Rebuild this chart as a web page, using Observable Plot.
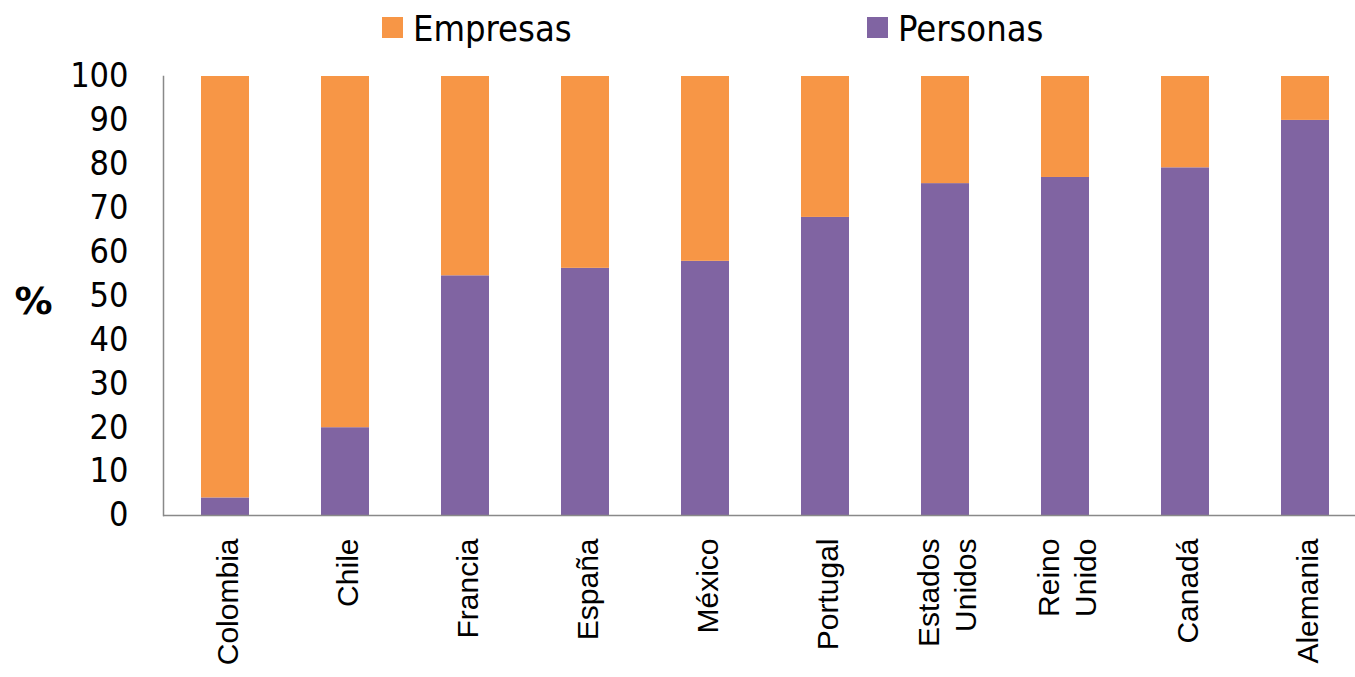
<!DOCTYPE html>
<html>
<head>
<meta charset="utf-8">
<script src="https://cdn.jsdelivr.net/npm/d3@7"></script>
<script src="https://cdn.jsdelivr.net/npm/@observablehq/plot@0.6"></script>
<style>
  html, body { margin: 0; padding: 0; background: #fff; overflow: hidden; }
  #wrap { width: 1355px; height: 677px; position: relative; }
  #legend { position: relative; width: 1355px; height: 60px; font-family: "DejaVu Sans Condensed", "DejaVu Sans", sans-serif; font-size: 36px; color: #000; }
  .sw { position: absolute; top: 17px; width: 21px; height: 21px; }
  .lab { position: absolute; top: 8px; line-height: 42px; }
</style>
</head>
<body>
<div id="wrap">
  <div id="legend"></div>
  <div id="chart"></div>
</div>
<script>
const countries = ["Colombia", "Chile", "Francia", "España", "México", "Portugal", "Estados Unidos", "Reino Unido", "Canadá", "Alemania"];
const personas = [4.0, 20.0, 54.6, 56.3, 57.9, 67.9, 75.6, 77.0, 79.2, 90.0];
const empresas = [96.0, 80.0, 45.4, 43.7, 42.1, 32.1, 24.4, 23.0, 20.8, 10.0];
const seriesNames = ["Empresas", "Personas"];
const seriesColors = ["#F79646", "#8064A2"];
const yTicks = [0, 10, 20, 30, 40, 50, 60, 70, 80, 90, 100];

// long table
const table = [];
countries.forEach((c, i) => {
  table.push({country: c, serie: "Personas", value: personas[i]});
  table.push({country: c, serie: "Empresas", value: empresas[i]});
});

// legend
const legend = document.getElementById("legend");
const legendPos = [{sw: 382, tx: 413}, {sw: 867, tx: 898}];
seriesNames.forEach((s, i) => {
  const sw = document.createElement("div");
  sw.className = "sw";
  sw.style.left = legendPos[i].sw + "px";
  sw.style.background = seriesColors[i];
  legend.appendChild(sw);
  const t = document.createElement("div");
  t.className = "lab";
  t.style.left = legendPos[i].tx + "px";
  t.textContent = s;
  legend.appendChild(t);
});

const axisColor = "#898989";

const chart = Plot.plot({
  width: 1355,
  height: 617,
  marginTop: 16,
  marginBottom: 162,
  marginLeft: 163,
  marginRight: 0,
  style: {background: "#fff", color: "#000", overflow: "visible"},
  x: {type: "band", domain: countries, paddingInner: 0.6, paddingOuter: 0.25, align: 0.6, label: null},
  y: {domain: [0, 100], label: null},
  color: {domain: seriesNames, range: seriesColors},
  marks: [
    Plot.barY(table, Plot.stackY({
      x: "country",
      y: "value",
      fill: "serie",
      order: ["Personas", "Empresas"]
    })),
    Plot.frame({anchor: "left", stroke: axisColor, strokeWidth: 1.5}),
    Plot.ruleY([0], {stroke: axisColor, strokeWidth: 1.5}),
    Plot.axisY(yTicks, {
      tickSize: 0,
      tickPadding: 35,
      fontSize: 34,
      fontFamily: "DejaVu Sans Condensed",
      label: null
    }),
    Plot.axisX({
      tickSize: 0,
      tickPadding: 23,
      tickRotate: -90,
      textAnchor: "end",
      lineAnchor: "middle",
      lineHeight: 1.25,
      fontSize: 30,
      fontFamily: "Liberation Sans",
      tickFormat: d => d.replace(" ", "\n"),
      label: null
    }),
    Plot.text(["%"], {
      frameAnchor: "left",
      dx: -130,
      dy: 6,
      text: d => d,
      fontWeight: "bold",
      fontSize: 38,
      fontFamily: "DejaVu Sans",
      textAnchor: "middle"
    })
  ]
});
document.getElementById("chart").appendChild(chart);
</script>
</body>
</html>
